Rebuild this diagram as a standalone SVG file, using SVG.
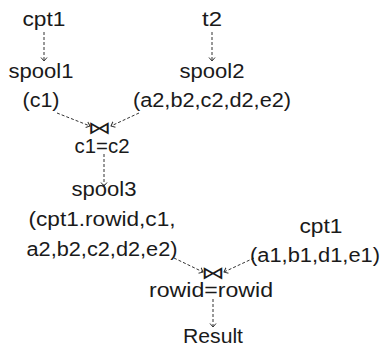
<svg xmlns="http://www.w3.org/2000/svg" width="383" height="351" viewBox="0 0 383 351">
  <style>
    .t { font-family: "Liberation Sans", Arial, sans-serif; font-size: 20px; fill: #1a1a1a; text-anchor: middle; }
    .j { font-family: "DejaVu Sans", sans-serif; font-size: 18px; fill: #1a1a1a; text-anchor: middle; }
    .e { fill: none; stroke: #333; stroke-width: 1; stroke-dasharray: 3 2; marker-end: url(#v); }
  </style>
  <defs>
    <!-- open chevron arrowhead -->
    <marker id="v" markerWidth="8" markerHeight="8" refX="4" refY="4" orient="auto" markerUnits="userSpaceOnUse">
      <path d="M0.5,1 L4,4 L0.5,7" fill="none" stroke="#333" stroke-width="1"/>
    </marker>
  </defs>
  <rect width="383" height="351" fill="#fff"/>

  <g id="edges">
    <path class="e" d="M44,32 V61"/>
    <path class="e" d="M212,32 V61"/>
    <path class="e" d="M57,113 L90,126"/>
    <path class="e" d="M139,113 L111,126"/>
    <path class="e" d="M104,154 V186"/>
    <path class="e" d="M174,258 L203,272"/>
    <path class="e" d="M254,258 L224,272"/>
    <path class="e" d="M213,299 V327"/>
  </g>

  <g id="cpt1-a"><text class="t" x="44" y="26" textLength="43" lengthAdjust="spacingAndGlyphs">cpt1</text></g>
  <g id="t2"><text class="t" x="212" y="26" textLength="20" lengthAdjust="spacingAndGlyphs">t2</text></g>
  <g id="spool1">
    <text class="t" x="41" y="78" textLength="65" lengthAdjust="spacingAndGlyphs">spool1</text>
    <text class="t" x="41" y="107" textLength="37" lengthAdjust="spacingAndGlyphs">(c1)</text>
  </g>
  <g id="spool2">
    <text class="t" x="212" y="78" textLength="65" lengthAdjust="spacingAndGlyphs">spool2</text>
    <text class="t" x="212" y="107" textLength="158" lengthAdjust="spacingAndGlyphs">(a2,b2,c2,d2,e2)</text>
  </g>
  <g id="join1">
    <text class="j" transform="translate(99.5,134) scale(1.3,1)">⋈</text>
    <text class="t" x="102" y="153" textLength="55" lengthAdjust="spacingAndGlyphs">c1=c2</text>
  </g>
  <g id="spool3">
    <text class="t" x="104" y="196" textLength="65" lengthAdjust="spacingAndGlyphs">spool3</text>
    <text class="t" x="102" y="226" textLength="147" lengthAdjust="spacingAndGlyphs">(cpt1.rowid,c1,</text>
    <text class="t" x="102" y="256" textLength="151" lengthAdjust="spacingAndGlyphs">a2,b2,c2,d2,e2)</text>
  </g>
  <g id="cpt1-b">
    <text class="t" x="321" y="233" textLength="43" lengthAdjust="spacingAndGlyphs">cpt1</text>
    <text class="t" x="315" y="262" textLength="130" lengthAdjust="spacingAndGlyphs">(a1,b1,d1,e1)</text>
  </g>
  <g id="join2">
    <text class="j" transform="translate(213,279) scale(1.3,1)">⋈</text>
    <text class="t" x="211" y="297" textLength="124" lengthAdjust="spacingAndGlyphs">rowid=rowid</text>
  </g>
  <g id="result"><text class="t" x="213" y="343" textLength="60" lengthAdjust="spacingAndGlyphs">Result</text></g>
</svg>
